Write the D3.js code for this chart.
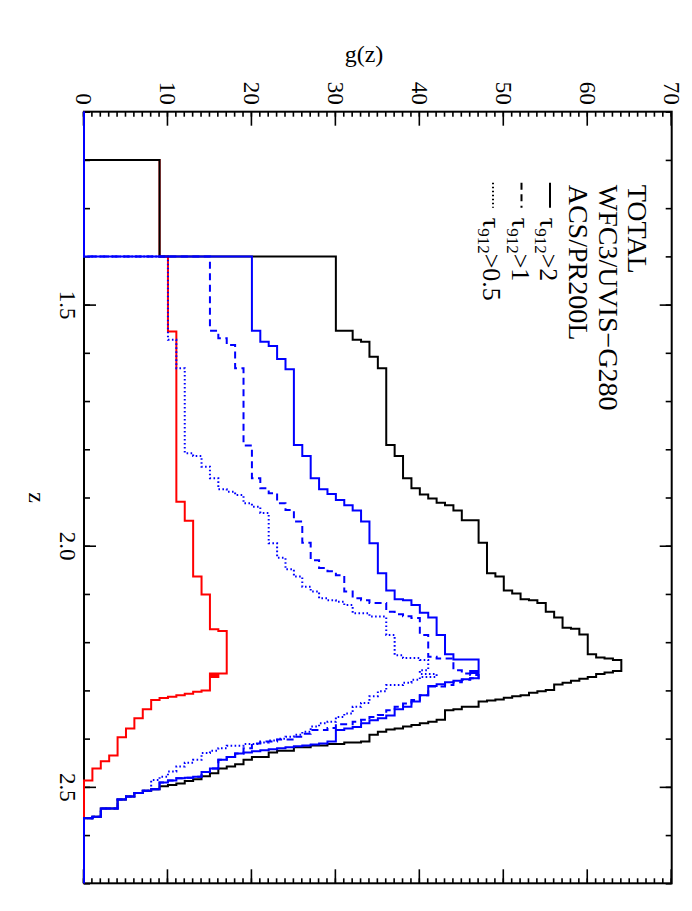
<html>
<head>
<script src="https://cdn.jsdelivr.net/npm/d3@7"></script>
<style>
body { margin: 0; background: #fff; }
text { font-family: "Liberation Serif", "DejaVu Serif", serif; fill: #000; }
.axis path { display: none; }
.axis line { stroke: #000; stroke-width: 1.6; }
</style>
</head>
<body>
<svg id="chart" width="692" height="911"></svg>
<script>
// axis ranges and tick labels
var zDomain = [1.1, 2.7];
var gDomain = [0, 70];
var zMajor = [1.5, 2.0, 2.5];
var gMajor = [0, 10, 20, 30, 40, 50, 60, 70];

// histograms as [z where the bin value changes, new g(z)]
var acsSteps = [[1.2, 9], [1.4, 10], [1.556, 11], [1.909, 12], [1.948, 13], [2.064, 14], [2.101, 15],
	[2.173, 16], [2.177, 17], [2.265, 15], [2.268, 16], [2.272, 15], [2.300, 14], [2.303, 13],
	[2.307, 12], [2.310, 11], [2.313, 10], [2.316, 9], [2.320, 8], [2.339, 7], [2.358, 6],
	[2.379, 5], [2.397, 4], [2.435, 3], [2.447, 2], [2.462, 1], [2.487, 0]];

var totalSteps = [[1.2, 9], [1.4, 30], [1.554, 32], [1.573, 33], [1.577, 34], [1.608, 35], [1.632, 36],
	[1.791, 37], [1.814, 38], [1.860, 39], [1.881, 40], [1.894, 41], [1.902, 42], [1.911, 43],
	[1.916, 44], [1.927, 45], [1.947, 47], [1.994, 48], [2.057, 49], [2.064, 50], [2.093, 51],
	[2.099, 52], [2.111, 53], [2.113, 54], [2.119, 55], [2.137, 56], [2.149, 57], [2.170, 58],
	[2.172, 59], [2.184, 60], [2.225, 61], [2.232, 62], [2.234, 63], [2.237, 64], [2.260, 63],
	[2.263, 62], [2.266, 61], [2.272, 60], [2.276, 59], [2.280, 58], [2.284, 57], [2.288, 56],
	[2.299, 55], [2.302, 54], [2.305, 53], [2.310, 52], [2.312, 51], [2.315, 50], [2.319, 49],
	[2.321, 48], [2.323, 47], [2.334, 45], [2.339, 44], [2.341, 43], [2.361, 42], [2.365, 41],
	[2.368, 40], [2.372, 39], [2.375, 38], [2.379, 37], [2.381, 36], [2.386, 35], [2.392, 34],
	[2.406, 33], [2.408, 31], [2.411, 29], [2.414, 27], [2.418, 25], [2.425, 23], [2.429, 22],
	[2.438, 20], [2.444, 19], [2.453, 18], [2.458, 17], [2.462, 16], [2.472, 15], [2.478, 14],
	[2.484, 13], [2.488, 12], [2.493, 11], [2.496, 10], [2.499, 9], [2.505, 8], [2.508, 7],
	[2.513, 6], [2.520, 5], [2.526, 4], [2.545, 2], [2.562, 1], [2.565, 0]];

var wfc3Steps = [[1.4, 20], [1.554, 21], [1.577, 22], [1.586, 23], [1.613, 24], [1.634, 25], [1.791, 26],
	[1.814, 27], [1.860, 28], [1.883, 29], [1.893, 30], [1.905, 31], [1.916, 32], [1.927, 33],
	[1.950, 34], [1.995, 35], [2.057, 36], [2.093, 37], [2.111, 38], [2.113, 39], [2.123, 40],
	[2.139, 41], [2.149, 42], [2.185, 43], [2.225, 44], [2.236, 47], [2.260, 46], [2.264, 47],
	[2.275, 46], [2.277, 45], [2.280, 44], [2.283, 43], [2.287, 42], [2.291, 41], [2.310, 40],
	[2.323, 39], [2.334, 38], [2.339, 37], [2.352, 36], [2.358, 35], [2.362, 34], [2.368, 33],
	[2.376, 32], [2.379, 31], [2.382, 30], [2.406, 29], [2.410, 28], [2.412, 27], [2.414, 26],
	[2.416, 25], [2.418, 24], [2.420, 23], [2.422, 22], [2.424, 21], [2.426, 20], [2.429, 19],
	[2.431, 18], [2.438, 17], [2.444, 16], [2.462, 15], [2.469, 14], [2.479, 13], [2.481, 12],
	[2.482, 11], [2.487, 10], [2.491, 9], [2.505, 8], [2.508, 7], [2.513, 6], [2.520, 5],
	[2.526, 4], [2.545, 2], [2.562, 1], [2.565, 0]];

var tau1Steps = [[1.4, 15], [1.554, 16], [1.570, 17], [1.584, 18], [1.632, 19], [1.792, 20], [1.860, 21],
	[1.881, 22], [1.891, 23], [1.912, 24], [1.926, 25], [1.950, 26], [1.994, 27], [2.030, 28],
	[2.046, 29], [2.053, 30], [2.061, 31], [2.095, 32], [2.109, 33], [2.113, 34], [2.119, 36],
	[2.137, 37], [2.142, 38], [2.146, 39], [2.150, 40], [2.185, 41], [2.230, 42], [2.234, 44],
	[2.258, 45], [2.265, 46], [2.268, 47], [2.275, 46], [2.278, 45], [2.283, 44], [2.289, 43],
	[2.292, 41], [2.310, 40], [2.320, 39], [2.327, 38], [2.334, 37], [2.341, 36], [2.351, 35],
	[2.355, 34], [2.361, 33], [2.365, 32], [2.370, 30], [2.378, 29], [2.382, 27], [2.390, 26],
	[2.396, 25], [2.402, 23], [2.406, 21], [2.410, 20], [2.420, 19], [2.431, 18], [2.438, 17],
	[2.444, 16], [2.462, 15], [2.469, 14], [2.479, 13], [2.481, 12], [2.482, 11], [2.487, 10],
	[2.491, 9], [2.505, 8], [2.508, 7], [2.513, 6], [2.520, 5], [2.526, 4], [2.545, 2],
	[2.562, 1], [2.565, 0]];

var tau05Steps = [[1.4, 10], [1.573, 11], [1.632, 12], [1.808, 13], [1.814, 14], [1.836, 15], [1.860, 16],
	[1.883, 17], [1.888, 18], [1.895, 19], [1.912, 20], [1.919, 21], [1.932, 22], [1.995, 23],
	[2.025, 24], [2.049, 25], [2.064, 26], [2.085, 27], [2.095, 28], [2.109, 29], [2.113, 30],
	[2.116, 31], [2.123, 32], [2.140, 34], [2.147, 36], [2.185, 37], [2.227, 38], [2.233, 40],
	[2.237, 41], [2.258, 40], [2.266, 42], [2.272, 40], [2.278, 39], [2.284, 38], [2.289, 36],
	[2.302, 35], [2.312, 34], [2.326, 33], [2.334, 32], [2.348, 31], [2.355, 30], [2.365, 29],
	[2.368, 28], [2.375, 27], [2.386, 26], [2.392, 25], [2.396, 24], [2.400, 23], [2.404, 22],
	[2.408, 21], [2.411, 19], [2.415, 17], [2.420, 16], [2.425, 15], [2.430, 14], [2.444, 13],
	[2.450, 12], [2.458, 11], [2.468, 10], [2.479, 9], [2.486, 8], [2.508, 7], [2.513, 6],
	[2.520, 5], [2.526, 4], [2.545, 2], [2.562, 1], [2.565, 0]];

// plot box on the page (the figure is drawn rotated by 90 degrees)
var box = { left: 84, top: 111.7, right: 671.7, bottom: 883.3 };
var W = box.bottom - box.top;   // length of the z axis
var H = box.right - box.left;   // length of the g(z) axis

var svg = d3.select("#chart");
var plot = svg.append("g")
	.attr("transform", "translate(" + box.right + "," + box.top + ") rotate(90)");

var x = d3.scaleLinear().domain(zDomain).range([0, W]);
var y = d3.scaleLinear().domain(gDomain).range([H, 0]);

var zMinor = d3.range(11, 28).map(function(d) { return d / 10; });
var gMinor = d3.range(0, 71);

// axes, ticks pointing inward on all four sides
function addAxis(axis, tx, ty, cls) {
	return plot.append("g").attr("class", "axis " + (cls || ""))
		.attr("transform", "translate(" + tx + "," + ty + ")")
		.call(axis);
}
var zfmt = d3.format(".1f");
addAxis(d3.axisBottom(x).tickValues(zMinor).tickSize(-6).tickFormat(""), 0, H);
addAxis(d3.axisTop(x).tickValues(zMinor).tickSize(-6).tickFormat(""), 0, 0);
addAxis(d3.axisBottom(x).tickValues(zMajor).tickSize(-12).tickPadding(8).tickFormat(zfmt), 0, H, "zlab");
addAxis(d3.axisTop(x).tickValues(zMajor).tickSize(-12).tickFormat(""), 0, 0);
addAxis(d3.axisLeft(y).tickValues(gMinor).tickSize(-5).tickFormat(""), 0, 0);
addAxis(d3.axisRight(y).tickValues(gMinor).tickSize(-5).tickFormat(""), W, 0);
addAxis(d3.axisLeft(y).tickValues(gMajor).tickSize(-14).tickPadding(7).tickFormat(d3.format("d")), 0, 0, "glab");
addAxis(d3.axisRight(y).tickValues(gMajor).tickSize(-14).tickFormat(""), W, 0);

plot.selectAll(".zlab text, .glab text")
	.style("font-family", "'Liberation Serif', serif")
	.style("font-size", "23px")
	.attr("fill", "#000");

plot.append("rect")
	.attr("width", W).attr("height", H)
	.attr("fill", "none").attr("stroke", "#000").attr("stroke-width", 2);

// histogram lines
var line = d3.line()
	.x(function(d) { return x(d[0]); })
	.y(function(d) { return y(d[1]); })
	.curve(d3.curveStepAfter);

function stepsToPoints(steps) {
	var pts = [[zDomain[0], 0]].concat(steps);
	pts.push([zDomain[1], steps[steps.length - 1][1]]);
	return pts;
}

var series = [
	{ steps: acsSteps, color: "#ff0000", dash: null },
	{ steps: totalSteps, color: "#000000", dash: null },
	{ steps: wfc3Steps, color: "#0000ff", dash: null },
	{ steps: tau1Steps, color: "#0000ff", dash: "7,4.5" },
	{ steps: tau05Steps, color: "#0000ff", dash: "1.6,2.4" }
];

plot.selectAll(".hist")
	.data(series)
	.enter().append("path")
	.attr("class", "hist")
	.attr("d", function(d) { return line(stepsToPoints(d.steps)); })
	.attr("fill", "none")
	.attr("stroke", function(d) { return d.color; })
	.attr("stroke-width", 2)
	.attr("stroke-dasharray", function(d) { return d.dash; });

// legend
var legendNames = ["TOTAL", "WFC3/UVIS\u2212G280", "ACS/PR200L"];
var legendColors = ["#000000", "#0000ff", "#ff0000"];
plot.selectAll(".lname")
	.data(legendNames)
	.enter().append("text")
	.attr("class", "lname")
	.attr("x", 73)
	.attr("y", function(d, i) { return 43.7 + i * 29.5; })
	.style("font-size", "28px")
	.attr("fill", function(d, i) { return legendColors[i]; })
	.text(function(d) { return d; });

var tauCuts = ["2", "1", "0.5"];
var tauDash = [null, "7,4.5", "1.6,2.4"];
var tauRows = plot.selectAll(".ltau")
	.data(tauCuts)
	.enter().append("g")
	.attr("class", "ltau")
	.attr("transform", function(d, i) { return "translate(0," + (131.7 + i * 28.5) + ")"; });

tauRows.append("line")
	.attr("x1", 71).attr("x2", 96)
	.attr("y1", -10).attr("y2", -10)
	.attr("stroke", "#000").attr("stroke-width", 2)
	.attr("stroke-dasharray", function(d, i) { return tauDash[i]; });

var tauText = tauRows.append("text")
	.attr("x", 106)
	.style("font-size", "26px");
tauText.append("tspan").text("\u03c4");
tauText.append("tspan").attr("dy", 5).style("font-size", "17px").text("912");
tauText.append("tspan").attr("dy", -5).text(function(d) { return ">" + d; });

// axis titles
plot.append("text")
	.attr("x", W / 2)
	.attr("y", H + 55)
	.attr("text-anchor", "middle")
	.style("font-size", "24px")
	.text("z");

svg.append("text")
	.attr("x", 364)
	.attr("y", 62)
	.attr("text-anchor", "middle")
	.style("font-size", "24px")
	.text("g(z)");
</script>
</body>
</html>
